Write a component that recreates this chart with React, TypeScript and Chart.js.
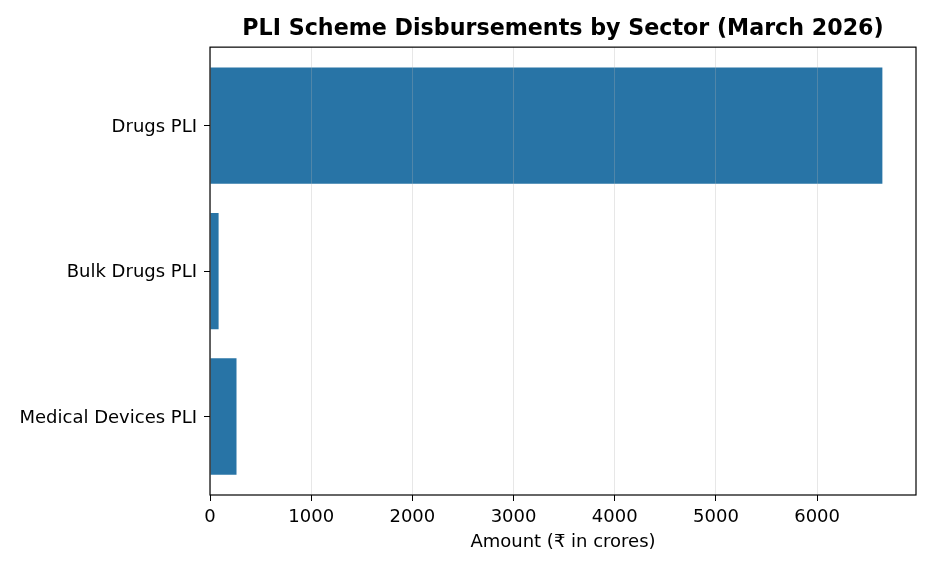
import React, { useEffect, useRef } from 'react'
import { Chart, registerables, type ChartConfiguration, type Plugin } from 'chart.js'

Chart.register(...registerables)

const sectors = ['Drugs PLI', 'Bulk Drugs PLI', 'Medical Devices PLI']
const amounts = [6645, 85, 262]
const xTicks = [0, 1000, 2000, 3000, 4000, 5000, 6000]

const FONT = "'DejaVu Sans', sans-serif"
const BAR = '#2874a6'

// matplotlib-style box around the plot area
const framePlugin: Plugin = {
  id: 'frame',
  afterDraw(chart) {
    const { ctx, chartArea: a } = chart
    ctx.save()
    ctx.strokeStyle = '#000'
    ctx.lineWidth = 1.2
    ctx.strokeRect(a.left, a.top, a.right - a.left, a.bottom - a.top)
    ctx.restore()
  },
}

export default function App() {
  const canvasRef = useRef<HTMLCanvasElement>(null)
  const chartRef = useRef<Chart | null>(null)

  useEffect(() => {
    if (!canvasRef.current) return
    chartRef.current?.destroy()

    const maxX = Math.max(...amounts) * 1.05

    const cfg: ChartConfiguration<'bar', { x: number; y: number }[]> = {
      type: 'bar',
      data: {
        datasets: [{
          data: amounts.map((v, i) => ({ x: v, y: i })),
          backgroundColor: BAR,
          borderWidth: 0,
          barPercentage: 0.8,
          categoryPercentage: 1,
        }],
      },
      options: {
        indexAxis: 'y',
        responsive: true,
        maintainAspectRatio: false,
        animation: false,
        layout: { padding: { left: 0, right: 20, top: 0, bottom: 0 } },
        plugins: {
          legend: { display: false },
          tooltip: { enabled: false },
          title: {
            display: true,
            fullSize: false,
            text: 'PLI Scheme Disbursements by Sector (March 2026)',
            color: '#000',
            font: { family: FONT, size: 22.2, weight: 'bold', lineHeight: 1.2 },
            padding: { top: 16, bottom: 4.5 },
          },
        },
        scales: {
          x: {
            type: 'linear',
            min: 0,
            max: maxX,
            z: 1,
            afterBuildTicks: s => { s.ticks = xTicks.map(v => ({ value: v })) },
            afterFit: s => { s.height = 77 },
            ticks: {
              color: '#000',
              font: { family: FONT, size: 18 },
              padding: 6,
              maxRotation: 0,
              callback: (v: any) => String(v),
            },
            grid: {
              z: 1,
              color: 'rgba(176,176,176,0.3)',
              tickColor: '#000',
              tickLength: 6,
              lineWidth: 1,
            },
            border: { display: false },
            title: {
              display: true,
              text: 'Amount (₹ in crores)',
              color: '#000',
              font: { family: FONT, size: 18, lineHeight: 1.2 },
              padding: { top: 0, bottom: 18.5 },
            },
          },
          y: {
            type: 'linear',
            min: -0.54,
            max: 2.54,
            reverse: true,
            offset: false,
            afterBuildTicks: s => { s.ticks = sectors.map((_, i) => ({ value: i })) },
            afterFit: s => { s.width = 210 },
            ticks: {
              color: '#000',
              font: { family: FONT, size: 18 },
              padding: 7,
              labelOffset: 1.5,
              callback: (v: any) => sectors[v as number] ?? '',
            },
            grid: {
              offset: false,
              drawOnChartArea: false,
              tickColor: '#000',
              tickLength: 6,
            },
            border: { display: false },
          },
        },
      },
      plugins: [framePlugin],
    }
    chartRef.current = new Chart(canvasRef.current, cfg as any)
    return () => { chartRef.current?.destroy() }
  }, [])

  return (
    <div style={{ position: 'absolute', left: 0, top: 0, width: 936, height: 572, background: '#fff' }}>
      <canvas ref={canvasRef} />
    </div>
  )
}
